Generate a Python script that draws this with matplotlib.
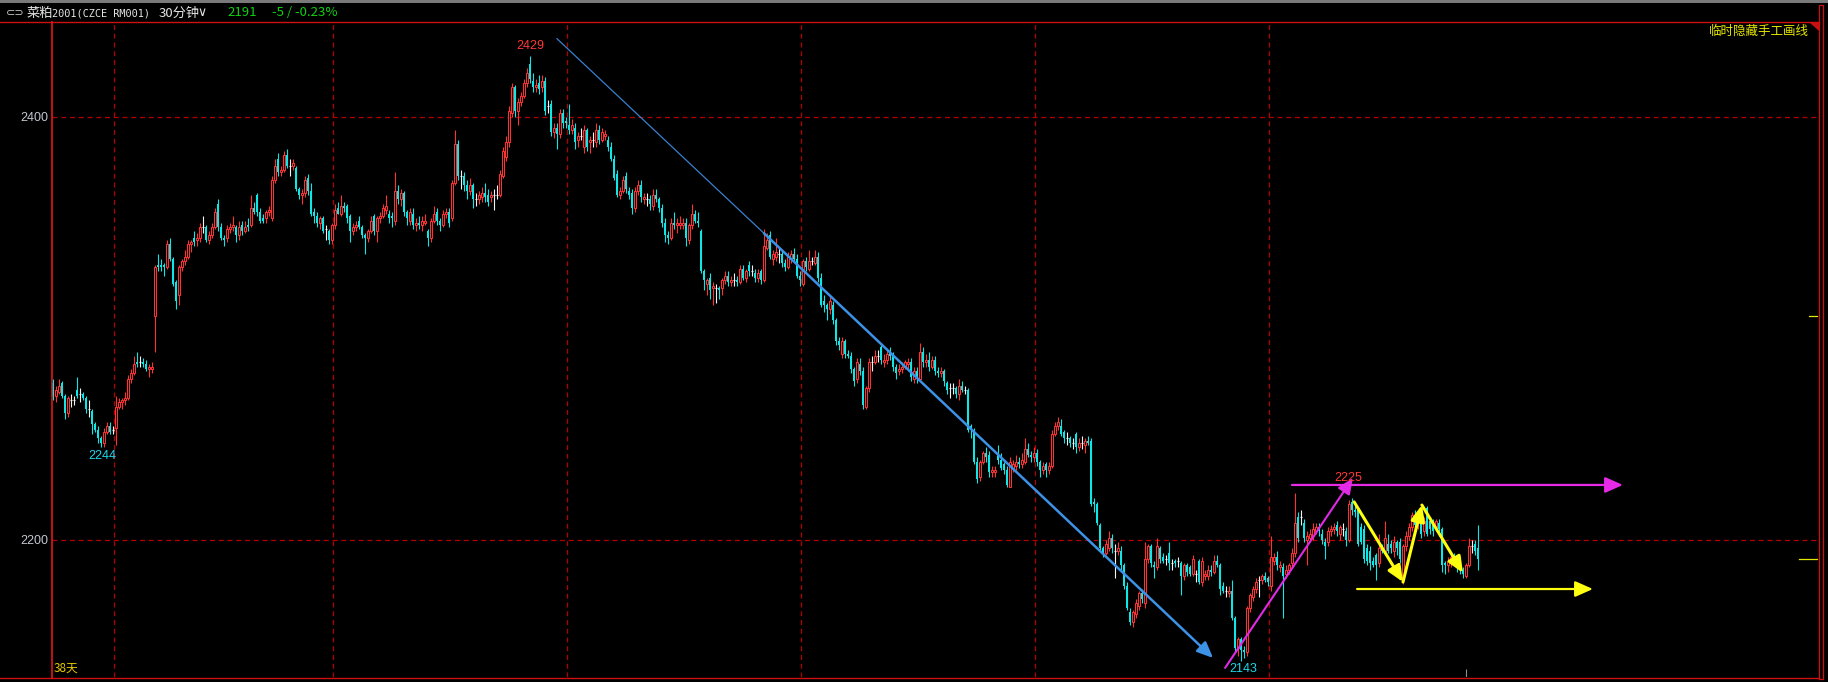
import numpy as np
import matplotlib.pyplot as plt
from matplotlib.lines import Line2D
from matplotlib.patches import Polygon, Rectangle

plt.rcParams['font.family'] = ['Noto Sans CJK SC', 'DejaVu Sans']

# 30-minute bars (bar index = position)
opens = [
    2274, 2268, 2270, 2274, 2268, 2260, 2266, 2266, 2271, 2269,
    2269, 2267, 2262, 2261, 2255, 2252, 2248, 2246, 2251, 2254,
    2252, 2253, 2263, 2265, 2266, 2267, 2276, 2279, 2284, 2284,
    2284, 2283, 2281, 2281, 2306, 2330, 2330, 2330, 2329, 2340,
    2333, 2322, 2316, 2329, 2332, 2334, 2340, 2343, 2342, 2343,
    2348, 2348, 2342, 2344, 2348, 2359, 2348, 2343, 2343, 2347,
    2348, 2348, 2344, 2349, 2346, 2349, 2349, 2357, 2363, 2355,
    2352, 2352, 2355, 2352, 2370, 2380, 2374, 2375, 2382, 2377,
    2377, 2376, 2366, 2363, 2364, 2371, 2365, 2355, 2353, 2350,
    2352, 2347, 2346, 2342, 2349, 2357, 2354, 2358, 2358, 2353,
    2346, 2348, 2351, 2348, 2344, 2343, 2346, 2353, 2346, 2352,
    2353, 2356, 2354, 2353, 2351, 2365, 2361, 2364, 2355, 2351,
    2354, 2349, 2350, 2349, 2350, 2346, 2343, 2351, 2355, 2351,
    2349, 2354, 2355, 2352, 2369, 2387, 2372, 2372, 2368, 2365,
    2368, 2361, 2361, 2362, 2364, 2363, 2362, 2363, 2363, 2363,
    2372, 2381, 2388, 2402, 2414, 2403, 2407, 2410, 2416, 2425,
    2417, 2414, 2416, 2414, 2417, 2405, 2406, 2393, 2395, 2392,
    2402, 2398, 2396, 2394, 2395, 2389, 2391, 2386, 2394, 2388,
    2389, 2388, 2394, 2389, 2391, 2389, 2386, 2380, 2373, 2363,
    2365, 2372, 2365, 2364, 2357, 2365, 2368, 2361, 2361, 2361,
    2358, 2363, 2361, 2357, 2350, 2344, 2343, 2350, 2349, 2349,
    2349, 2350, 2342, 2349, 2354, 2351, 2346, 2327, 2321, 2324,
    2319, 2319, 2319, 2319, 2323, 2325, 2322, 2323, 2323, 2322,
    2328, 2324, 2330, 2327, 2326, 2324, 2327, 2323, 2338, 2344,
    2333, 2334, 2335, 2335, 2331, 2329, 2333, 2335, 2333, 2325,
    2321, 2332, 2328, 2332, 2331, 2334, 2324, 2313, 2311, 2309,
    2311, 2304, 2294, 2288, 2294, 2288, 2287, 2281, 2276, 2283,
    2280, 2263, 2272, 2284, 2284, 2287, 2291, 2284, 2285, 2289,
    2287, 2282, 2280, 2281, 2282, 2283, 2284, 2276, 2280, 2276,
    2289, 2284, 2285, 2282, 2285, 2280, 2279, 2280, 2274, 2272,
    2272, 2272, 2269, 2273, 2271, 2271, 2254, 2252, 2237, 2230,
    2237, 2241, 2240, 2232, 2232, 2240, 2238, 2236, 2233, 2225,
    2234, 2235, 2237, 2236, 2237, 2243, 2240, 2239, 2241, 2237,
    2233, 2236, 2233, 2235, 2250, 2254, 2254, 2251, 2248, 2248,
    2246, 2250, 2244, 2246, 2245, 2247, 2247, 2218, 2217, 2207,
    2196, 2194, 2196, 2201, 2195, 2195, 2195, 2188, 2178, 2166,
    2161, 2165, 2169, 2175, 2170, 2191, 2197, 2188, 2187, 2196,
    2192, 2191, 2194, 2189, 2190, 2190, 2189, 2183, 2188, 2187,
    2184, 2184, 2190, 2180, 2183, 2183, 2186, 2185, 2190, 2188,
    2178, 2176, 2175, 2176, 2163, 2149, 2153, 2148, 2147, 2168,
    2173, 2177, 2181, 2181, 2183, 2182, 2178, 2190, 2192, 2187,
    2187, 2184, 2186, 2189, 2194, 2211, 2211, 2208, 2200, 2201,
    2202, 2204, 2206, 2203, 2199, 2199, 2204, 2205, 2207, 2203,
    2205, 2204, 2200, 2218, 2214, 2214, 2206, 2205, 2196, 2195,
    2190, 2193, 2189, 2197, 2195, 2198, 2198, 2195, 2199, 2199,
    2181, 2197, 2202, 2206, 2212, 2208, 2208, 2204, 2215, 2209,
    2208, 2206, 2208, 2205, 2189, 2188, 2189, 2192, 2190, 2187,
    2186, 2183, 2188, 2197, 2198, 2196,
]
highs = [
    2276, 2273, 2276, 2275, 2269, 2268, 2269, 2268, 2277, 2272,
    2270, 2268, 2266, 2262, 2256, 2254, 2249, 2253, 2256, 2256,
    2254, 2268, 2267, 2267, 2270, 2278, 2281, 2287, 2289, 2287,
    2286, 2285, 2283, 2284, 2330, 2335, 2333, 2331, 2342, 2343,
    2334, 2323, 2330, 2333, 2337, 2342, 2342, 2346, 2345, 2350,
    2353, 2349, 2346, 2350, 2357, 2361, 2350, 2344, 2349, 2350,
    2353, 2349, 2351, 2351, 2351, 2352, 2363, 2360, 2364, 2357,
    2354, 2356, 2358, 2372, 2380, 2383, 2377, 2384, 2385, 2380,
    2380, 2377, 2367, 2366, 2372, 2373, 2369, 2357, 2355, 2353,
    2353, 2349, 2347, 2350, 2359, 2360, 2363, 2360, 2359, 2354,
    2350, 2351, 2353, 2349, 2345, 2347, 2353, 2354, 2353, 2355,
    2359, 2363, 2356, 2355, 2374, 2368, 2366, 2365, 2356, 2357,
    2357, 2352, 2353, 2353, 2354, 2347, 2352, 2358, 2357, 2352,
    2356, 2357, 2357, 2370, 2394, 2389, 2375, 2374, 2370, 2371,
    2369, 2364, 2365, 2367, 2369, 2366, 2365, 2366, 2368, 2375,
    2386, 2391, 2405, 2416, 2415, 2409, 2412, 2418, 2423, 2429,
    2421, 2418, 2420, 2420, 2419, 2408, 2408, 2397, 2397, 2404,
    2404, 2400, 2406, 2399, 2397, 2393, 2395, 2396, 2395, 2391,
    2393, 2397, 2396, 2395, 2394, 2391, 2388, 2382, 2375, 2367,
    2372, 2374, 2367, 2366, 2367, 2370, 2370, 2364, 2364, 2363,
    2366, 2366, 2362, 2359, 2352, 2346, 2352, 2355, 2352, 2353,
    2352, 2352, 2350, 2359, 2356, 2355, 2347, 2328, 2324, 2326,
    2322, 2321, 2320, 2324, 2327, 2327, 2325, 2326, 2325, 2330,
    2330, 2328, 2332, 2330, 2328, 2328, 2328, 2347, 2345, 2346,
    2337, 2343, 2338, 2337, 2333, 2336, 2337, 2338, 2335, 2327,
    2333, 2334, 2337, 2334, 2337, 2336, 2326, 2316, 2312, 2316,
    2313, 2305, 2296, 2296, 2295, 2290, 2289, 2282, 2286, 2286,
    2282, 2273, 2286, 2287, 2290, 2290, 2293, 2288, 2290, 2291,
    2289, 2283, 2283, 2284, 2285, 2286, 2286, 2282, 2282, 2293,
    2291, 2288, 2289, 2287, 2287, 2282, 2282, 2281, 2275, 2274,
    2274, 2273, 2276, 2275, 2273, 2272, 2255, 2253, 2239, 2238,
    2242, 2244, 2242, 2235, 2235, 2245, 2241, 2237, 2235, 2239,
    2238, 2240, 2239, 2241, 2248, 2246, 2242, 2244, 2243, 2238,
    2237, 2237, 2237, 2252, 2256, 2258, 2257, 2252, 2251, 2249,
    2248, 2251, 2248, 2249, 2248, 2249, 2248, 2220, 2218, 2208,
    2197, 2200, 2204, 2203, 2198, 2199, 2197, 2189, 2180, 2168,
    2167, 2172, 2176, 2177, 2199, 2198, 2198, 2190, 2201, 2197,
    2194, 2193, 2199, 2191, 2191, 2192, 2190, 2189, 2189, 2188,
    2193, 2186, 2191, 2192, 2186, 2188, 2188, 2193, 2193, 2189,
    2180, 2178, 2178, 2181, 2164, 2154, 2154, 2150, 2169, 2175,
    2178, 2182, 2183, 2184, 2185, 2183, 2202, 2194, 2195, 2190,
    2189, 2188, 2189, 2196, 2222, 2213, 2214, 2210, 2204, 2205,
    2208, 2208, 2208, 2205, 2201, 2206, 2207, 2208, 2209, 2207,
    2208, 2206, 2219, 2220, 2216, 2215, 2208, 2207, 2198, 2197,
    2192, 2194, 2203, 2198, 2209, 2203, 2200, 2202, 2200, 2201,
    2198, 2204, 2208, 2213, 2214, 2210, 2210, 2211, 2216, 2211,
    2210, 2210, 2210, 2206, 2190, 2192, 2193, 2194, 2191, 2189,
    2187, 2189, 2201, 2200, 2200, 2207,
]
lows = [
    2266, 2265, 2269, 2267, 2257, 2258, 2263, 2264, 2267, 2265,
    2266, 2260, 2258, 2250, 2251, 2246, 2244, 2244, 2250, 2250,
    2250, 2245, 2262, 2262, 2264, 2266, 2274, 2278, 2282, 2282,
    2282, 2280, 2277, 2279, 2289, 2327, 2327, 2325, 2328, 2332,
    2320, 2309, 2311, 2327, 2330, 2333, 2336, 2339, 2339, 2341,
    2345, 2341, 2340, 2343, 2347, 2346, 2342, 2339, 2341, 2345,
    2346, 2341, 2342, 2344, 2345, 2346, 2348, 2354, 2353, 2350,
    2350, 2350, 2353, 2351, 2369, 2372, 2372, 2374, 2376, 2372,
    2375, 2365, 2361, 2359, 2362, 2363, 2353, 2350, 2348, 2347,
    2345, 2342, 2340, 2340, 2347, 2354, 2353, 2355, 2350, 2341,
    2344, 2346, 2347, 2343, 2335, 2341, 2345, 2344, 2341, 2350,
    2352, 2354, 2350, 2348, 2349, 2359, 2358, 2353, 2349, 2349,
    2347, 2346, 2347, 2346, 2349, 2339, 2341, 2350, 2349, 2346,
    2348, 2352, 2348, 2351, 2368, 2370, 2366, 2365, 2361, 2363,
    2357, 2358, 2359, 2360, 2360, 2358, 2360, 2356, 2361, 2362,
    2371, 2379, 2386, 2400, 2400, 2396, 2405, 2409, 2414, 2416,
    2412, 2412, 2411, 2412, 2401, 2402, 2391, 2390, 2385, 2390,
    2395, 2395, 2392, 2392, 2385, 2386, 2389, 2383, 2384, 2383,
    2386, 2386, 2387, 2388, 2389, 2384, 2379, 2370, 2362, 2361,
    2364, 2364, 2361, 2354, 2355, 2363, 2360, 2359, 2358, 2356,
    2356, 2360, 2355, 2348, 2341, 2340, 2342, 2347, 2345, 2347,
    2347, 2339, 2340, 2347, 2350, 2348, 2326, 2318, 2316, 2314,
    2311, 2312, 2314, 2316, 2321, 2320, 2320, 2320, 2320, 2321,
    2323, 2322, 2325, 2325, 2322, 2322, 2321, 2322, 2337, 2333,
    2330, 2332, 2331, 2329, 2327, 2328, 2331, 2332, 2324, 2320,
    2320, 2327, 2327, 2330, 2330, 2322, 2310, 2308, 2304, 2307,
    2302, 2292, 2290, 2286, 2286, 2286, 2279, 2273, 2274, 2278,
    2262, 2262, 2270, 2280, 2283, 2284, 2283, 2282, 2283, 2285,
    2280, 2276, 2278, 2279, 2281, 2281, 2275, 2274, 2274, 2275,
    2282, 2282, 2280, 2281, 2278, 2277, 2277, 2273, 2269, 2267,
    2269, 2267, 2266, 2270, 2269, 2251, 2248, 2236, 2227, 2228,
    2236, 2237, 2230, 2230, 2230, 2236, 2233, 2231, 2225, 2225,
    2232, 2233, 2234, 2234, 2236, 2239, 2237, 2237, 2235, 2230,
    2231, 2230, 2231, 2234, 2249, 2252, 2249, 2246, 2245, 2244,
    2243, 2241, 2242, 2243, 2241, 2245, 2216, 2213, 2207, 2195,
    2192, 2193, 2195, 2194, 2182, 2193, 2186, 2177, 2167, 2160,
    2159, 2163, 2167, 2170, 2168, 2189, 2187, 2182, 2186, 2189,
    2189, 2188, 2186, 2186, 2187, 2187, 2174, 2181, 2183, 2183,
    2183, 2180, 2179, 2178, 2181, 2181, 2183, 2184, 2187, 2174,
    2175, 2173, 2173, 2162, 2147, 2145, 2143, 2144, 2145, 2166,
    2171, 2175, 2173, 2179, 2180, 2178, 2176, 2188, 2186, 2185,
    2163, 2182, 2184, 2187, 2192, 2199, 2207, 2199, 2188, 2199,
    2200, 2203, 2202, 2198, 2191, 2197, 2202, 2203, 2202, 2200,
    2202, 2197, 2199, 2212, 2211, 2197, 2198, 2189, 2188, 2186,
    2187, 2181, 2187, 2194, 2193, 2194, 2194, 2192, 2193, 2189,
    2179, 2195, 2200, 2204, 2204, 2205, 2201, 2202, 2202, 2203,
    2202, 2204, 2202, 2185, 2184, 2185, 2187, 2188, 2185, 2184,
    2182, 2182, 2187, 2194, 2193, 2186,
]
closes = [
    2268, 2271, 2273, 2268, 2260, 2267, 2266, 2266, 2268, 2269,
    2267, 2262, 2262, 2255, 2252, 2248, 2246, 2251, 2254, 2251,
    2252, 2263, 2265, 2266, 2267, 2276, 2279, 2283, 2283, 2284,
    2283, 2281, 2282, 2282, 2329, 2329, 2329, 2329, 2340, 2333,
    2321, 2313, 2329, 2332, 2334, 2340, 2341, 2341, 2343, 2348,
    2348, 2342, 2344, 2348, 2355, 2348, 2343, 2342, 2347, 2348,
    2349, 2344, 2348, 2346, 2348, 2348, 2357, 2355, 2355, 2351,
    2351, 2355, 2356, 2370, 2377, 2374, 2375, 2382, 2377, 2377,
    2378, 2366, 2363, 2364, 2370, 2365, 2354, 2353, 2350, 2352,
    2346, 2347, 2342, 2349, 2356, 2354, 2358, 2357, 2352, 2346,
    2348, 2349, 2348, 2344, 2343, 2346, 2351, 2346, 2352, 2353,
    2357, 2358, 2352, 2352, 2365, 2361, 2364, 2355, 2352, 2355,
    2349, 2350, 2349, 2351, 2351, 2343, 2351, 2354, 2351, 2349,
    2354, 2355, 2350, 2369, 2387, 2372, 2372, 2368, 2365, 2368,
    2361, 2361, 2363, 2364, 2362, 2360, 2363, 2363, 2363, 2373,
    2384, 2388, 2403, 2414, 2403, 2407, 2410, 2416, 2421, 2418,
    2414, 2415, 2413, 2417, 2403, 2405, 2393, 2395, 2392, 2402,
    2397, 2397, 2394, 2396, 2388, 2391, 2391, 2394, 2386, 2389,
    2389, 2394, 2389, 2393, 2392, 2386, 2380, 2371, 2363, 2365,
    2370, 2366, 2363, 2357, 2365, 2368, 2362, 2362, 2361, 2359,
    2363, 2361, 2357, 2350, 2344, 2343, 2350, 2349, 2350, 2350,
    2350, 2343, 2349, 2354, 2351, 2350, 2327, 2323, 2323, 2318,
    2320, 2319, 2318, 2323, 2325, 2322, 2323, 2323, 2322, 2328,
    2324, 2327, 2327, 2327, 2324, 2326, 2323, 2339, 2342, 2334,
    2335, 2336, 2335, 2331, 2329, 2334, 2335, 2333, 2325, 2323,
    2332, 2329, 2332, 2332, 2334, 2324, 2311, 2311, 2309, 2313,
    2304, 2294, 2292, 2294, 2288, 2287, 2281, 2275, 2284, 2280,
    2264, 2272, 2284, 2284, 2287, 2287, 2285, 2285, 2288, 2287,
    2282, 2279, 2281, 2282, 2284, 2284, 2277, 2280, 2276, 2289,
    2284, 2285, 2282, 2285, 2280, 2279, 2280, 2275, 2271, 2272,
    2272, 2269, 2273, 2271, 2271, 2252, 2252, 2237, 2229, 2237,
    2241, 2239, 2232, 2233, 2233, 2238, 2234, 2233, 2226, 2237,
    2236, 2237, 2236, 2238, 2243, 2240, 2239, 2241, 2237, 2233,
    2235, 2233, 2235, 2250, 2254, 2256, 2250, 2248, 2248, 2246,
    2246, 2244, 2246, 2246, 2247, 2246, 2217, 2217, 2208, 2196,
    2194, 2198, 2201, 2196, 2195, 2196, 2188, 2178, 2168, 2161,
    2166, 2170, 2175, 2172, 2191, 2197, 2189, 2187, 2197, 2191,
    2190, 2191, 2189, 2189, 2189, 2190, 2183, 2188, 2185, 2184,
    2191, 2184, 2180, 2190, 2184, 2186, 2185, 2190, 2188, 2177,
    2176, 2176, 2176, 2163, 2149, 2153, 2148, 2147, 2168, 2174,
    2177, 2180, 2181, 2183, 2181, 2180, 2192, 2192, 2188, 2188,
    2183, 2186, 2188, 2194, 2208, 2201, 2211, 2201, 2202, 2203,
    2205, 2206, 2204, 2200, 2197, 2204, 2205, 2206, 2204, 2206,
    2205, 2200, 2217, 2214, 2213, 2198, 2199, 2191, 2190, 2189,
    2188, 2188, 2196, 2195, 2201, 2195, 2196, 2199, 2196, 2191,
    2197, 2202, 2206, 2212, 2207, 2210, 2203, 2209, 2203, 2205,
    2204, 2209, 2205, 2188, 2188, 2190, 2192, 2190, 2187, 2186,
    2184, 2188, 2197, 2197, 2195, 2191,
]

# axis / annotations
price_ticks = [2200, 2400]
day_breaks = [20.5, 93.5, 171.5, 249.5, 327.5, 405.5]
marks = [(16.3, 2239.7, '2244', '#1ed8ea'), (159, 2433.6, '2429', '#ff3838'),
         (396.7, 2139.0, '2143', '#1ed8ea'), (431.7, 2229.3, '2225', '#ff3838')]
blue_x = [168, 237, 386.7]
blue_y = [2437, 2345, 2144.2]
magenta_x = [390.7, 433.3]
magenta_y = [2139.5, 2229.3]
magenta_level = 2226
magenta_span = [413, 523.3]
yellow_x = [433.7, 450, 456.3, 470]
yellow_y = [2218, 2180.1, 2216.5, 2184.4]
yellow_level = 2176.8
yellow_span = [434.7, 513.3]
side_mark = 2306

W, H = 1828, 682
fig = plt.figure(figsize=(W / 100, H / 100), dpi=100, facecolor='black')


def fx(x):
    return x / W


def fy(y):
    return 1 - y / H


ax = fig.add_axes([fx(52), 5 / H, 1765 / W, 655 / H])
ax.set_facecolor('black')
ax.set_xlim(-0.33, 588)
ax.set_ylim(2135.2, 2444.9)
for s in ax.spines.values():
    s.set_visible(False)

RED = '#ff3232'
CYAN = '#10e6e6'
WHITE = '#f2f2f2'
GRID = '#b00000'

# grid
for p in price_ticks:
    ax.axhline(p, color=GRID, lw=0.9, ls=(0, (4, 3)), zorder=0)
for b in day_breaks:
    ax.axvline(b, color=GRID, lw=0.9, ls=(0, (4, 3)), zorder=0)

# candles
x = np.arange(len(closes))
o = np.array(opens, float)
h = np.array(highs, float)
l = np.array(lows, float)
c = np.array(closes, float)
up = c > o
dn = c < o
fl = c == o
ax.vlines(x[up], l[up], h[up], color=RED, lw=0.8, zorder=2)
ax.vlines(x[dn], l[dn], h[dn], color=CYAN, lw=0.8, zorder=2)
ax.vlines(x[fl], l[fl], h[fl], color=WHITE, lw=0.8, zorder=2)
ax.bar(x[up], c[up] - o[up], bottom=o[up], width=0.72, facecolor='black',
       edgecolor=RED, linewidth=0.75, zorder=3)
ax.bar(x[dn], o[dn] - c[dn], bottom=c[dn], width=0.78, color=CYAN,
       linewidth=0, zorder=3)
ax.hlines(c[fl], x[fl] - 0.45, x[fl] + 0.45, color=WHITE, lw=0.8, zorder=3)

# hand-drawn lines
ax.plot(blue_x[:2], blue_y[:2], color='#3a80d0', lw=0.9, zorder=4)
ax.annotate('', xy=(blue_x[2], blue_y[2]), xytext=(blue_x[1], blue_y[1]),
            arrowprops=dict(arrowstyle='-|>,head_length=0.8,head_width=0.35',
                            color='#3c92e6', lw=1.8, shrinkA=0, shrinkB=0,
                            mutation_scale=12), zorder=4)
ax.annotate('', xy=(magenta_x[1], magenta_y[1]), xytext=(magenta_x[0], magenta_y[0]),
            arrowprops=dict(arrowstyle='-|>,head_length=0.8,head_width=0.35',
                            color='#e02ae6', lw=1.5, shrinkA=0, shrinkB=0,
                            mutation_scale=12), zorder=4)
ax.annotate('', xy=(magenta_span[1], magenta_level), xytext=(magenta_span[0], magenta_level),
            arrowprops=dict(arrowstyle='-|>,head_length=0.9,head_width=0.4',
                            color='#e62ae6', lw=1.6, shrinkA=0, shrinkB=0,
                            mutation_scale=12), zorder=4)
for i in range(3):
    ax.annotate('', xy=(yellow_x[i + 1], yellow_y[i + 1]), xytext=(yellow_x[i], yellow_y[i]),
                arrowprops=dict(arrowstyle='-|>,head_length=0.8,head_width=0.35',
                                color='#ffff10', lw=2.2, shrinkA=0, shrinkB=0,
                                mutation_scale=12), zorder=4)
ax.annotate('', xy=(yellow_span[1], yellow_level), xytext=(yellow_span[0], yellow_level),
            arrowprops=dict(arrowstyle='-|>,head_length=0.9,head_width=0.4',
                            color='#ffff10', lw=1.6, shrinkA=0, shrinkB=0,
                            mutation_scale=12), zorder=4)

# high / low labels
for bx, py, txt, col in marks:
    ax.text(bx, py, txt, color=col, fontsize=9, ha='center', va='center',
            family=['Liberation Sans'], zorder=5)

# price axis labels
ax.set_xticks([])
ax.set_yticks(price_ticks)
ax.set_yticklabels([str(p) for p in price_ticks], family=['Liberation Sans'],
                   fontsize=9, color='#c4c8d0')
ax.tick_params(axis='y', length=0, pad=3)

# right-edge price markers
tr = ax.get_yaxis_transform()
ax.plot([0.9955, 1.0], [side_mark, side_mark], color='#e6e600', lw=0.9,
        transform=tr, clip_on=False)
ax.plot([0.990, 1.0], [closes[-1], closes[-1]], color='#e6e600', lw=0.9,
        transform=tr, clip_on=False)
ax.vlines(471, 2135.2, 2139.0, color='#909090', lw=0.8)

# frame
fig.add_artist(Rectangle((0, fy(3)), 1, 3 / H, transform=fig.transFigure,
                         color='#7a7a7a', lw=0))
fig.add_artist(Line2D([0, fx(1819)], [fy(22), fy(22)], color='#d01010', lw=1.0))
fig.add_artist(Line2D([0, fx(1819)], [fy(677.5), fy(677.5)], color='#d01010', lw=1.0))
fig.add_artist(Line2D([fx(52), fx(52)], [fy(22), fy(677.5)], color='#e01818', lw=1.2))
fig.add_artist(Rectangle((fx(1819), fy(679)), 4 / W, 674 / H, transform=fig.transFigure,
                         fill=False, edgecolor='#d01010', lw=0.9))
fig.add_artist(Polygon([(fx(1809), fy(22)), (fx(1819), fy(22)), (fx(1819), fy(31))],
                       closed=True, transform=fig.transFigure, color='#c81010', lw=0))

# header
hy = fy(13)
MONO = ['DejaVu Sans Mono', 'Noto Sans CJK SC']
fig.text(fx(6), hy, '⊂⊃', color='#c8c8c8', fontsize=8, va='center', family=['DejaVu Sans'])
fig.text(fx(27), hy, '菜粕', color='#e4e4e4', fontsize=9.5, va='center')
fig.text(fx(52), hy, '2001(CZCE RM001)', color='#e4e4e4', fontsize=7.4,
         va='center', family=MONO)
fig.text(fx(159), hy, '30分钟', color='#e4e4e4', fontsize=9.5, va='center')
fig.text(fx(197), hy, '∨', color='#e4e4e4', fontsize=9, va='center', family=['DejaVu Sans'])
fig.text(fx(227), hy, '2191', color='#10d010', fontsize=9.5, va='center')
fig.text(fx(272), hy, '-5 / -0.23%', color='#10d010', fontsize=9.5, va='center')
fig.text(fx(1809), fy(31), '临时隐藏手工画线', color='#e6e600', fontsize=9,
         ha='right', va='center')
fig.text(fx(54), fy(668), '38天', color='#e6c800', fontsize=8.5, va='center')

fig.savefig('out.png', dpi=100, facecolor='black')
